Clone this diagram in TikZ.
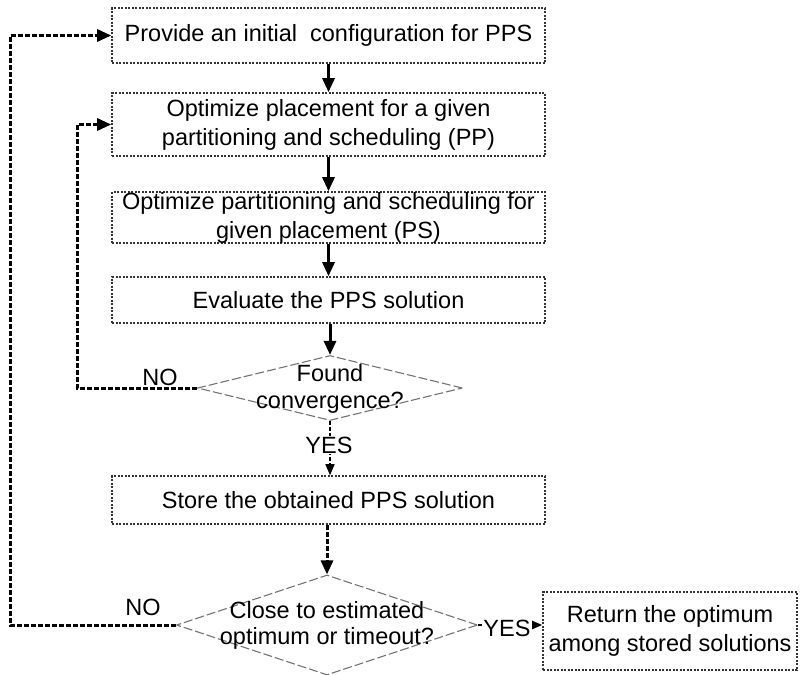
\documentclass[tikz,border=0pt]{standalone}
\usepackage{fontspec}
\setmainfont{Liberation Sans}
\usetikzlibrary{shapes.geometric,arrows.meta}
\begin{document}
\begin{tikzpicture}[x=1pt,y=-1pt,
  txt/.style={font=\fontsize{23.5}{29}\selectfont, align=center, inner sep=0pt},
  box/.style={txt, draw=black!80, line width=1.6pt, dash pattern=on 2pt off 1.5pt},
  dia/.style={shape=diamond, draw=black!55, line width=1.1pt, dash pattern=on 9pt off 3pt, inner sep=0pt},
  solidarr/.style={line width=3pt, -{Triangle[length=14pt,width=12pt]}},
  backarr/.style={line width=3pt, dash pattern=on 5pt off 2pt, -{Triangle[length=14pt,width=12pt]}},
  thinarr/.style={line width=1.6pt, dash pattern=on 4pt off 2pt, -{Triangle[length=11pt,width=9pt]}},
  lbl/.style={txt, fill=white, inner sep=1pt}]
\useasboundingbox (0,0) rectangle (801,675);

\node[box, minimum width=433pt, minimum height=55pt] (b1) at (328.5,35.5) {Provide an initial\ \ configuration for PPS};
\node[box, minimum width=433pt, minimum height=63pt] (b2) at (328.5,124.5) {Optimize placement for a given\\partitioning and scheduling (PP)};
\node[box, minimum width=433pt, minimum height=51pt] (b3) at (328.5,217.5) {Optimize partitioning and scheduling for\\given placement (PS)};
\node[box, minimum width=433pt, minimum height=46pt] (b4) at (328.5,300) {Evaluate the PPS solution};
\node[dia, minimum width=265pt, minimum height=65pt] (d1) at (330,388) {};
\node[txt, font=\fontsize{23.5}{27}\selectfont] (d1t) at (330,389) {Found\\convergence?};
\node[box, minimum width=433pt, minimum height=48pt] (b5) at (328.5,500) {Store the obtained PPS solution};
\node[dia, minimum width=301pt, minimum height=100pt] (d2) at (327,625) {};
\node[txt, font=\fontsize{23.5}{26}\selectfont] (d2t) at (327,625) {Close to estimated\\optimum or timeout?};
\node[box, minimum width=254pt, minimum height=78pt] (b6) at (670,631) {Return the optimum\\among stored solutions};

\node[txt] (no1) at (160,377) {NO};
\node[txt] (no2) at (143,607) {NO};

\coordinate (c1) at (77,388);
\coordinate (c2) at (77,124.5);
\coordinate (c3) at (10,625);
\coordinate (c4) at (10,35.5);

\draw[solidarr] (b1) -- (b2);
\draw[solidarr] (b2) -- (b3);
\draw[solidarr] (b3) -- (b4);
\draw[solidarr] (b4.south -| d1) -- (d1.north);
\draw[thinarr] (d1.south) -- (b5.north -| d1.south);
\node[lbl] (yes1) at (329,445) {YES};
\draw[backarr] (b5.south -| d2.north) -- (d2.north);
\draw[backarr] (d1.west) -- (c1) -- (c2) -- (b2.west);
\draw[backarr] (d2.west) -- (c3) -- (c4) -- (b1.west);
\draw[thinarr] (d2.east) -- (b6.west |- d2.east);
\node[lbl] (yes2) at (507,628) {YES};
\end{tikzpicture}
\end{document}
